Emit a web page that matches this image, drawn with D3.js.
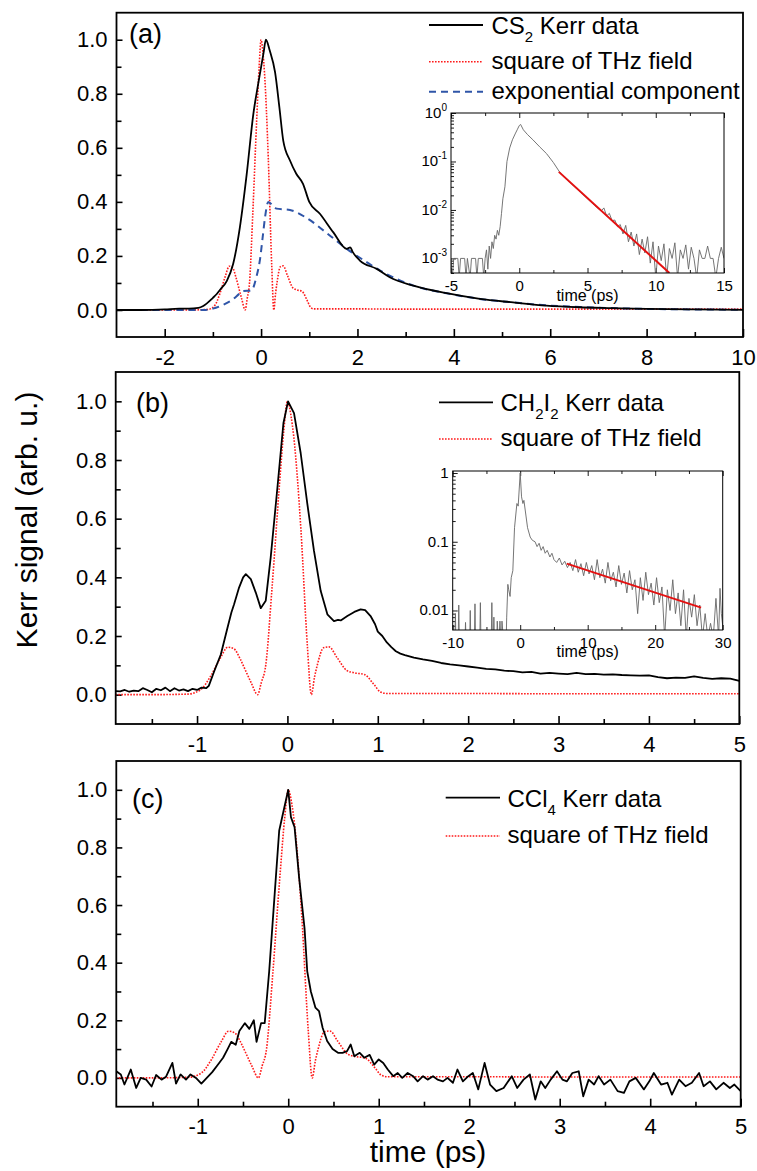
<!DOCTYPE html>
<html><head><meta charset="utf-8">
<script src="https://cdn.jsdelivr.net/npm/d3@7"></script>
<style>
body{margin:0;background:#fff}
svg{display:block}
text{font-family:"Liberation Sans",Arial,sans-serif}
</style>
</head><body>
<svg id="chart" width="757" height="1171"></svg>
<script>
// ---------------- DATA ----------------
// (a) CS2 Kerr data
const csT = [-3,-2.5,-2,-1.7,-1.5,-1.3,-1.2,-1.0,-0.92,-0.85,-0.71,-0.58,-0.44,-0.3,-0.16,-0.06,0.05,0.1,0.18,0.29,0.38,0.46,0.6,0.73,0.87,1.0,1.22,1.5,1.78,1.85,1.9,2.05,2.4,2.67,3.16,3.85,4.54,5.23,5.92,6.61,7.3,8.0,9.0,10.0];
const csV = [0,0,0.002,0.005,0.005,0.008,0.015,0.045,0.059,0.075,0.108,0.17,0.306,0.5,0.726,0.837,0.95,1.0,0.96,0.88,0.75,0.627,0.553,0.504,0.467,0.40,0.356,0.287,0.226,0.232,0.215,0.183,0.152,0.121,0.09,0.062,0.041,0.028,0.016,0.01,0.007,0.004,0.002,0.0];
// (a) exponential component
const expT = [-3,-1.2,-1.0,-0.8,-0.58,-0.45,-0.37,-0.2,-0.1,-0.02,0.04,0.08,0.15,0.25,0.32,0.6,0.95,1.36,1.78,2.19,2.47,3.16,3.85,4.54,5.23,5.92,6.61,8,10];
const expV = [0,0,0.005,0.018,0.04,0.06,0.07,0.072,0.12,0.19,0.28,0.34,0.40,0.385,0.375,0.37,0.34,0.285,0.226,0.177,0.146,0.09,0.062,0.041,0.028,0.017,0.011,0.004,0.001];
// square of THz field (same pulse in all panels)
const thzT = [-3,-1.5,-1.1,-0.96,-0.85,-0.74,-0.66,-0.59,-0.52,-0.46,-0.4,-0.33,-0.29,-0.24,-0.17,-0.09,-0.04,0,0.04,0.07,0.15,0.22,0.265,0.3,0.33,0.4,0.46,0.55,0.66,0.75,0.85,0.96,1.03,1.1,2,3,4,5,7,10];
const thzV = [0,0,0.002,0.017,0.063,0.126,0.162,0.156,0.12,0.08,0.04,0.0,0.04,0.10,0.365,0.708,0.9,1.0,0.95,0.88,0.56,0.17,0.0,0.06,0.10,0.16,0.163,0.126,0.082,0.074,0.069,0.034,0.009,0.004,0.004,0.003,0.003,0.003,0.003,0.003];
// (b) CH2I2 Kerr data
const chT = [-1.9,-1.85,-1.8,-1.75,-1.7,-1.65,-1.6,-1.55,-1.5,-1.45,-1.4,-1.35,-1.3,-1.25,-1.2,-1.15,-1.1,-1.05,-1.0,-0.95,-0.9,-0.87,
  -0.81,-0.737,-0.663,-0.62,-0.59,-0.535,-0.49,-0.46,-0.405,-0.35,-0.295,-0.24,-0.185,-0.11,-0.044,0.007,0.073,0.147,0.22,0.294,0.368,0.442,0.515,0.56,0.59,0.663,0.74,0.81,0.86,0.92,0.97,
  1.0,1.05,1.1,1.15,1.2,1.25,1.3,1.4,1.5,1.6,1.7,1.8,1.9,2.0,2.1,2.2,2.3,2.4,2.5,2.6,2.7,2.8,2.9,3.0,3.1,3.2,3.3,3.4,3.5,3.6,3.7,3.8,3.9,4.0,4.1,4.2,4.3,4.4,4.5,4.6,4.7,4.8,4.9,5.0];
const chV = [0.012,0.011,0.016,0.01,0.014,0.012,0.022,0.016,0.008,0.02,0.015,0.024,0.012,0.022,0.014,0.018,0.012,0.02,0.016,0.024,0.022,0.03,
  0.08,0.137,0.228,0.28,0.308,0.365,0.40,0.411,0.394,0.348,0.295,0.32,0.468,0.708,0.926,1.0,0.96,0.823,0.651,0.49,0.354,0.274,0.251,0.255,0.253,0.268,0.282,0.291,0.288,0.268,0.24,
  0.215,0.2,0.178,0.162,0.148,0.14,0.135,0.126,0.12,0.115,0.108,0.103,0.1,0.096,0.092,0.088,0.086,0.082,0.08,0.076,0.078,0.072,0.074,0.072,0.07,0.074,0.07,0.071,0.068,0.069,0.067,0.066,0.065,0.066,0.06,0.056,0.058,0.057,0.062,0.057,0.054,0.056,0.055,0.047];
// (c) CCl4 Kerr data
const ccT = [-1.9,-1.85,-1.81,-1.74,-1.68,-1.63,-1.57,-1.51,-1.46,-1.4,-1.35,-1.28,-1.24,-1.19,-1.13,-1.08,-1.02,-0.96,-0.9,-0.84,-0.78,-0.72,-0.67,-0.63,-0.58,-0.54,-0.48,-0.43,-0.38,-0.35,-0.3,-0.26,-0.21,-0.15,-0.1,0,0.03,0.07,0.12,0.18,0.21,0.25,0.3,0.34,0.38,0.43,0.49,0.55,0.6,0.65,0.69,0.73,0.79,0.84,0.9,0.95,1.0,
  1.05,1.1,1.16,1.21,1.26,1.32,1.38,1.43,1.49,1.54,1.6,1.65,1.71,1.76,1.82,1.87,1.93,1.99,2.04,2.1,2.17,2.23,2.3,2.38,2.47,2.53,2.6,2.67,2.73,2.79,2.84,2.9,2.97,3.03,3.08,3.14,3.21,3.26,3.32,3.38,3.43,3.49,3.56,3.64,3.71,3.77,3.84,3.93,3.99,4.04,4.12,4.19,4.24,4.32,4.39,4.46,4.54,4.59,4.66,4.73,4.81,4.88,4.93,5.0];
const ccV = [0.023,0.012,-0.023,0.029,-0.035,0.0,-0.006,-0.03,0.01,-0.006,0.004,0.052,-0.02,0.012,-0.006,0.012,0.0,-0.02,0.0,0.02,0.045,0.07,0.1,0.125,0.115,0.163,0.19,0.17,0.2,0.125,0.19,0.19,0.372,0.638,0.858,1.0,0.905,0.87,0.696,0.52,0.37,0.3,0.244,0.232,0.174,0.128,0.1,0.087,0.087,0.093,0.116,0.075,0.087,0.07,0.08,0.046,0.064,
  0.052,0.029,0.006,0.017,0.0,0.017,0.006,-0.012,0.006,-0.006,0.006,-0.006,-0.012,0.0,-0.017,0.029,-0.012,0.006,0.017,-0.04,0.052,-0.023,-0.046,-0.035,0.006,-0.035,-0.006,0.012,-0.075,-0.012,-0.035,-0.006,0.023,-0.006,-0.012,0.017,0.023,-0.064,-0.006,-0.023,0.006,-0.023,-0.006,-0.046,-0.052,-0.012,0.0,-0.04,-0.012,0.017,-0.023,-0.017,-0.058,-0.006,-0.029,-0.017,0.017,-0.029,-0.012,-0.04,-0.017,-0.035,-0.023,-0.046];
// inset (a): CS2 on log scale
const inAT = [-5.0,-4.9,-4.8,-4.5,-4.4,-4.3,-4.0,-3.9,-3.8,-3.6,-3.5,-3.2,-3.1,-3.0,-2.7,-2.6,-2.5,-2.4,-2.3,-2.2,-2.1,-2.0,-1.9,-1.8,-1.7,-1.6,-1.5,-1.4,-1.3,-1.2,-1.05,-0.9,-0.7,-0.5,-0.3,-0.15,0.0,0.1,0.3,0.6,1.0,1.5,2.0,2.5,3.0,3.5,4.0,4.5,5.0,5.5,
  6.0,6.2,6.4,6.6,6.8,7.0,7.2,7.4,7.6,7.8,8.0,8.2,8.4,8.6,8.8,9.0,9.2,9.4,9.6,9.8,10.0,10.2,10.4,10.6,10.8,11.0,11.2,11.4,11.6,11.8,12.0,12.2,12.4,12.6,12.8,13.0,13.2,13.4,13.6,13.8,14.0,14.2,14.4,14.6,14.8,15.0];
const inAV = [0.001,0.0004,0.001,0.001,0.0004,0.001,0.001,0.0004,0.001,0.0004,0.001,0.001,0.0004,0.001,0.001,0.0004,0.001,0.0015,0.0006,0.0018,0.001,0.0022,0.0016,0.003,0.0025,0.0038,0.003,0.0045,0.0085,0.017,0.03,0.1,0.19,0.28,0.37,0.45,0.55,0.58,0.45,0.36,0.28,0.2,0.145,0.095,0.058,0.042,0.031,0.023,0.017,0.0125,
  0.0095,0.011,0.0075,0.0085,0.006,0.0062,0.0045,0.005,0.0032,0.0048,0.0022,0.0035,0.0018,0.0032,0.0012,0.0025,0.0013,0.0028,0.0008,0.0022,0.0004,0.0018,0.0009,0.002,0.0004,0.0016,0.001,0.0021,0.0004,0.0015,0.001,0.0019,0.0006,0.0017,0.001,0.0004,0.0015,0.001,0.001,0.0018,0.001,0.001,0.0004,0.001,0.0017,0.001];
const fitAT = [2.9, 11.0];
const fitAV = [0.061, 0.0005];
// inset (b): CH2I2 on log scale
const inBT = [-10,-9.7,-9.6,-9.5,-9.2,-9.1,-9.0,-8.2,-8.1,-8.0,-7.5,-7.4,-7.3,-6.8,-6.7,-6.6,-6.0,-5.9,-5.8,-4.3,-4.2,-4.1,-4.0,-3.9,-3.8,-3.5,-3.4,-3.2,-3.0,-2.8,-2.7,-2.4,-2.1,-2.0,-1.83,-1.7,-1.5,-1.33,-1.09,-0.84,-0.49,-0.3,0,0.2,0.4,0.55,0.74,1.09,1.48,1.8,2.2,2.5,2.8,3.1,3.4,3.7,4.0,4.4,4.7,
  5.0,5.4,5.8,6.2,6.6,7.0,7.4,7.8,8.2,8.6,9.0,9.4,9.8,10.2,10.6,11.0,11.4,11.8,12.2,12.6,13.0,13.4,13.8,14.2,14.6,15.0,15.4,15.8,16.2,16.6,17.0,17.4,17.8,18.2,18.6,19.0,19.4,19.8,20.2,20.6,21.0,21.4,21.8,22.2,22.6,23.0,23.4,23.8,24.2,24.6,25.0,25.4,25.8,26.2,26.6,27.0,27.4,27.8,28.2,28.6,29.0,29.4,29.6,29.8,30.0];
const inBV = [0.006,0.003,0.009,0.003,0.003,0.012,0.003,0.003,0.0067,0.003,0.003,0.01,0.003,0.003,0.0125,0.003,0.003,0.013,0.003,0.003,0.013,0.003,0.003,0.008,0.003,0.003,0.007,0.003,0.007,0.003,0.007,0.003,0.003,0.008,0.024,0.02,0.016,0.03,0.038,0.16,0.36,0.33,1.0,0.45,0.36,0.4,0.29,0.16,0.117,0.105,0.1,0.085,0.095,0.075,0.085,0.068,0.075,0.06,0.068,
  0.055,0.05,0.058,0.046,0.052,0.042,0.05,0.038,0.055,0.036,0.048,0.032,0.05,0.034,0.045,0.028,0.055,0.03,0.04,0.025,0.05,0.027,0.036,0.022,0.045,0.024,0.035,0.018,0.038,0.02,0.028,0.009,0.03,0.014,0.036,0.017,0.025,0.012,0.03,0.013,0.022,0.004,0.02,0.01,0.028,0.009,0.018,0.006,0.02,0.004,0.015,0.008,0.017,0.006,0.012,0.004,0.009,0.004,0.0065,0.004,0.015,0.004,0.021,0.009,0.006];
const fitBT = [6.9, 26.8];
const fitBV = [0.048, 0.011];

// tick values / labels
const yMajor = [0, 0.2, 0.4, 0.6, 0.8, 1.0];
const yMinor = [0.1, 0.3, 0.5, 0.7, 0.9];
const xMajorA = [-2, 0, 2, 4, 6, 8, 10];
const xMinorA = [-3, -1, 1, 3, 5, 7, 9];
const xMajorBC = [-1, 0, 1, 2, 3, 4, 5];
const xMinorBC = [-1.5, -0.5, 0.5, 1.5, 2.5, 3.5, 4.5];
const inAXMajor = [-5, 0, 5, 10, 15];
const inAXMinor = [-2.5, 2.5, 7.5, 12.5];
const inAYMajor = [1, 0.1, 0.01, 0.001];
const inAYLabels = ["0", "-1", "-2", "-3"];
const inBXMajor = [-10, 0, 10, 20, 30];
const inBXMinor = [-5, 5, 15, 25];
const inBYMajor = [1, 0.1, 0.01];
const inBYLabels = ["1", "0.1", "0.01"];

const legendA = [
  {parts: [["CS"], ["2", 1], [" Kerr data"]], style: "black"},
  {parts: [["square of THz field"]], style: "red"},
  {parts: [["exponential component"]], style: "blue"}
];
const legendB = [
  {parts: [["CH"], ["2", 1], ["I"], ["2", 1], [" Kerr data"]], style: "black"},
  {parts: [["square of THz field"]], style: "red"}
];
const legendC = [
  {parts: [["CCl"], ["4", 1], [" Kerr data"]], style: "black"},
  {parts: [["square of THz field"]], style: "red"}
];

// ---------------- STYLES ----------------
const STY = {
  black: {stroke: "#000", width: 1.8, dash: null},
  red:   {stroke: "#ff1a1a", width: 1.6, dash: "1.6,1.4"},
  blue:  {stroke: "#2f55a8", width: 2, dash: "7,5"},
  gray:  {stroke: "#666", width: 0.9, dash: null},
  fit:   {stroke: "#e41010", width: 2, dash: null}
};
const FONT = '"Liberation Sans", Arial, sans-serif';
const svg = d3.select("#chart");
let clipId = 0;
const fmtInt = d => String(d);           // plain hyphen minus as in the original
const fmt1 = d => d.toFixed(1);

function zip(T, V) { return T.map((t, i) => [t, V[i]]); }

function drawLine(g, x, y, data, sty, curve) {
  const line = d3.line().x(d => x(d[0])).y(d => y(d[1])).curve(curve || d3.curveLinear);
  g.append("path").datum(data)
    .attr("fill", "none").attr("stroke", STY[sty].stroke)
    .attr("stroke-width", STY[sty].width)
    .attr("stroke-dasharray", STY[sty].dash)
    .attr("stroke-linejoin", "round")
    .attr("d", line);
}

function makeClip(x0, y0, w, h) {
  const id = "clip" + (clipId++);
  svg.append("clipPath").attr("id", id).append("rect")
    .attr("x", x0).attr("y", y0).attr("width", w).attr("height", h);
  return "url(#" + id + ")";
}

function styleAxis(sel, fs, sw) {
  sel.attr("font-family", FONT).attr("font-size", fs);
  sel.select(".domain").remove();
  sel.selectAll("line").attr("stroke", "#000").attr("stroke-width", sw);
  sel.selectAll("text").attr("fill", "#000");
}

function mainPanel(o) {
  const x = d3.scaleLinear().domain(o.xd).range([o.L, o.R]);
  const y = d3.scaleLinear().domain([-0.1, 1.1]).range([o.B, o.T]);
  const g = svg.append("g");
  g.append("g").attr("transform", `translate(0,${o.B})`)
    .call(d3.axisBottom(x).tickValues(o.xMajor).tickSize(-8).tickPadding(12).tickFormat(fmtInt))
    .call(s => styleAxis(s, 22, 1.6));
  g.append("g").attr("transform", `translate(0,${o.B})`)
    .call(d3.axisBottom(x).tickValues(o.xMinor.filter(v => v > o.xd[0])).tickSize(-5).tickFormat(""))
    .call(s => styleAxis(s, 22, 1.6));
  g.append("g").attr("transform", `translate(${o.L},0)`)
    .call(d3.axisLeft(y).tickValues(yMajor).tickSize(-6).tickPadding(9).tickFormat(fmt1))
    .call(s => styleAxis(s, 22, 1.6));
  g.append("g").attr("transform", `translate(${o.L},0)`)
    .call(d3.axisLeft(y).tickValues(yMinor).tickSize(-5).tickFormat(""))
    .call(s => styleAxis(s, 22, 1.6));
  const clip = makeClip(o.L, o.T, o.R - o.L, o.B - o.T);
  const dg = g.append("g").attr("clip-path", clip);
  o.series.forEach(s => drawLine(dg, x, y, s.data, s.sty, s.curve));
  g.append("rect").attr("x", o.L).attr("y", o.T).attr("width", o.R - o.L).attr("height", o.B - o.T)
    .attr("fill", "none").attr("stroke", "#000").attr("stroke-width", 1.8);
  g.append("text").attr("x", o.lab[0]).attr("y", o.lab[1]).attr("font-size", 27)
    .attr("font-family", FONT).text(o.label);
  o.legend.forEach((e, i) => {
    const ly = o.leg.lines[i];
    const st = STY[e.style];
    g.append("line").attr("x1", o.leg.x1).attr("x2", o.leg.x2).attr("y1", ly).attr("y2", ly)
      .attr("stroke", st.stroke).attr("stroke-width", st.width).attr("stroke-dasharray", st.dash);
    const t = g.append("text").attr("x", o.leg.tx).attr("y", o.leg.base[i])
      .attr("font-size", 24).attr("font-family", FONT);
    let sub = false;
    e.parts.forEach(p => {
      const ts = t.append("tspan").text(p[0]);
      if (p[1]) { ts.attr("font-size", 15).attr("dy", sub ? 0 : 8); sub = true; }
      else if (sub) { ts.attr("dy", -8); sub = false; }
    });
  });
  return {x, y, g};
}

function inset(o) {
  const x = d3.scaleLinear().domain(o.xd).range([o.L, o.R]);
  const y = d3.scaleLog().domain(o.yd).range([o.B, o.T]);
  const g = svg.append("g");
  g.append("g").attr("transform", `translate(0,${o.B})`)
    .call(d3.axisBottom(x).tickValues(o.xMajor).tickSize(-5).tickPadding(7).tickFormat(fmtInt))
    .call(s => styleAxis(s, 15, 0.9));
  g.append("g").attr("transform", `translate(0,${o.B})`)
    .call(d3.axisBottom(x).tickValues(o.xMinor).tickSize(-3).tickFormat(""))
    .call(s => styleAxis(s, 15, 0.9));
  g.append("g").attr("transform", `translate(0,${o.T})`)
    .call(d3.axisTop(x).tickValues(o.xMajor).tickSize(-5).tickFormat(""))
    .call(s => styleAxis(s, 15, 0.9));
  g.append("g").attr("transform", `translate(0,${o.T})`)
    .call(d3.axisTop(x).tickValues(o.xMinor).tickSize(-3).tickFormat(""))
    .call(s => styleAxis(s, 15, 0.9));
  const minors = [];
  const lo = Math.floor(Math.log10(o.yd[0])), hi = Math.ceil(Math.log10(o.yd[1]));
  for (let e = lo; e < hi; e++) for (let m = 2; m <= 9; m++) {
    const v = m * Math.pow(10, e);
    if (v >= o.yd[0] && v <= o.yd[1]) minors.push(v);
  }
  g.append("g").attr("transform", `translate(${o.L},0)`)
    .call(d3.axisLeft(y).tickValues(o.yMajor).tickSize(-5).tickFormat(""))
    .call(s => styleAxis(s, 15, 0.9));
  g.append("g").attr("transform", `translate(${o.L},0)`)
    .call(d3.axisLeft(y).tickValues(minors).tickSize(-3).tickFormat(""))
    .call(s => styleAxis(s, 15, 0.9));
  o.yMajor.forEach((v, i) => {
    const t = g.append("text").attr("x", o.L - 4).attr("y", y(v) + 5)
      .attr("text-anchor", "end").attr("font-size", 15).attr("font-family", FONT);
    if (o.sup) {
      t.append("tspan").text("10");
      t.append("tspan").attr("font-size", 10).attr("dy", -7).text(o.yLabels[i]);
    } else t.text(o.yLabels[i]);
  });
  const clip = makeClip(o.L, o.T, o.R - o.L, o.B - o.T);
  const dg = g.append("g").attr("clip-path", clip);
  o.series.forEach(s => drawLine(dg, x, y, s.data, s.sty, s.curve));
  g.append("rect").attr("x", o.L).attr("y", o.T).attr("width", o.R - o.L).attr("height", o.B - o.T)
    .attr("fill", "none").attr("stroke", "#000").attr("stroke-width", 1);
  g.append("text").attr("x", (o.L + o.R) / 2).attr("y", o.titleY).attr("text-anchor", "middle")
    .attr("font-size", 16).attr("font-family", FONT).text("time (ps)");
}

// ---------------- PANELS ----------------
mainPanel({
  L: 116.5, R: 743, T: 12.7, B: 337, xd: [-3, 10], xMajor: xMajorA, xMinor: xMinorA,
  label: "(a)", lab: [129, 43],
  series: [
    {data: zip(thzT, thzV), sty: "red", curve: d3.curveMonotoneX},
    {data: zip(expT, expV), sty: "blue", curve: d3.curveMonotoneX},
    {data: zip(csT, csV), sty: "black", curve: d3.curveMonotoneX}
  ],
  legend: legendA,
  leg: {x1: 429, x2: 483, tx: 491.5, lines: [25, 61.7, 91.7], base: [33.5, 69, 98.5]}
});
inset({
  L: 451, R: 724, T: 113, B: 273, xd: [-5, 15], yd: [5e-4, 1],
  xMajor: inAXMajor, xMinor: inAXMinor, yMajor: inAYMajor, yLabels: inAYLabels, sup: true,
  titleY: 301,
  series: [
    {data: zip(inAT, inAV), sty: "gray"},
    {data: zip(fitAT, fitAV), sty: "fit"}
  ]
});

mainPanel({
  L: 115.7, R: 739.3, T: 372, B: 724, xd: [-1.9, 5], xMajor: xMajorBC, xMinor: xMinorBC,
  label: "(b)", lab: [136, 411.5],
  series: [
    {data: zip(thzT, thzV), sty: "red", curve: d3.curveMonotoneX},
    {data: zip(chT, chV), sty: "black"}
  ],
  legend: legendB,
  leg: {x1: 439, x2: 493, tx: 500.5, lines: [402.3, 439], base: [411, 446]}
});
inset({
  L: 452.7, R: 722.7, T: 471, B: 630, xd: [-10, 30], yd: [0.0052, 1.07],
  xMajor: inBXMajor, xMinor: inBXMinor, yMajor: inBYMajor, yLabels: inBYLabels, sup: false,
  titleY: 657,
  series: [
    {data: zip(inBT, inBV), sty: "gray"},
    {data: zip(fitBT, fitBV), sty: "fit"}
  ]
});

mainPanel({
  L: 116.3, R: 740.7, T: 761, B: 1106.7, xd: [-1.9, 5], xMajor: xMajorBC, xMinor: xMinorBC,
  label: "(c)", lab: [132, 808],
  series: [
    {data: zip(thzT, thzV), sty: "red", curve: d3.curveMonotoneX},
    {data: zip(ccT, ccV), sty: "black"}
  ],
  legend: legendC,
  leg: {x1: 445.7, x2: 500, tx: 507.5, lines: [797.7, 836], base: [807, 843.3]}
});

// axis titles
svg.append("text").attr("transform", "translate(37,520) rotate(-90)").attr("text-anchor", "middle")
  .attr("font-size", 30).attr("font-family", FONT).text("Kerr signal (arb. u.)");
svg.append("text").attr("x", 428).attr("y", 1162).attr("text-anchor", "middle")
  .attr("font-size", 30).attr("font-family", FONT).text("time (ps)");
</script>
</body></html>
